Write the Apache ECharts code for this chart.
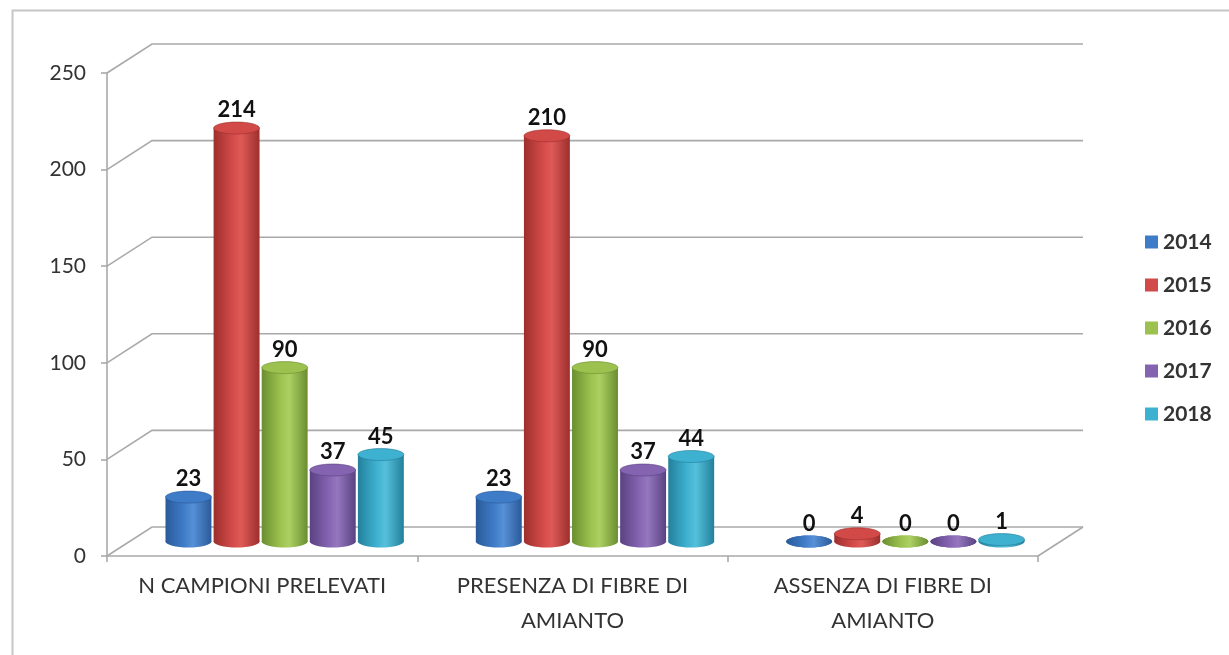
<!DOCTYPE html>
<html>
<head>
<meta charset="utf-8">
<script src="https://cdn.jsdelivr.net/npm/echarts@6/dist/echarts.min.js"></script>
<style>html,body{margin:0;padding:0;background:#fff}#c{width:1229px;height:655px}</style>
</head>
<body>
<div id="c"></div>
<script>
const categories = ["N CAMPIONI PRELEVATI", "PRESENZA DI FIBRE DI\nAMIANTO", "ASSENZA DI FIBRE DI\nAMIANTO"];
const years = ["2014", "2015", "2016", "2017", "2018"];
const v2014 = [23, 23, 0];
const v2015 = [214, 210, 4];
const v2016 = [90, 90, 0];
const v2017 = [37, 37, 0];
const v2018 = [45, 44, 1];
const yTicks = [0, 50, 100, 150, 200, 250];

const seriesValues = [v2014, v2015, v2016, v2017, v2018];
const baseColors = ['#3f7cc8', '#d24a48', '#9cc14f', '#8463b0', '#3eb0d0'];
const darkColors = ['#2a5a9a', '#9c2f2d', '#6a8e30', '#5a4282', '#23809c'];
const lightColors = ['#5690d6', '#df5a57', '#acd062', '#9477be', '#55c0db'];

const DX = 45, DY = -29;
const FONT = 'Lato';

function cylRender(k) {
  return function (params, api) {
    const ci = api.value(0), v = api.value(1);
    const b = api.coord([ci, 0]);
    const t = api.coord([ci, v]);
    const cw = api.size([1, 0])[0];
    const cx = b[0] + DX / 2 + (k - 2) * cw * 0.155;
    const w = cw * 0.148, rx = w / 2, ry = 6;
    const by = b[1] + DY / 2, ty = t[1] + DY / 2;
    const grad = {
      type: 'linear', x: 0, y: 0, x2: 1, y2: 0,
      colorStops: [
        {offset: 0, color: darkColors[k]},
        {offset: 0.4, color: baseColors[k]},
        {offset: 0.6, color: lightColors[k]},
        {offset: 1, color: darkColors[k]}
      ]
    };
    const children = [];
    children.push({type: 'ellipse', shape: {cx: cx, cy: by, rx: rx, ry: ry}, style: {fill: grad}});
    if (by - ty > 0.5) {
      children.push({type: 'rect', shape: {x: cx - rx, y: ty, width: w, height: by - ty}, style: {fill: grad}});
    }
    children.push({type: 'ellipse', shape: {cx: cx, cy: ty, rx: rx, ry: ry}, style: {fill: v > 0 ? baseColors[k] : grad, stroke: v > 0 ? darkColors[k] : null, lineWidth: 0.6}});
    children.push({
      type: 'text',
      style: {
        text: String(v), x: cx, y: ty - ry - 1, align: 'center', verticalAlign: 'bottom',
        fontSize: 22, fontWeight: 'bold', fontFamily: FONT, fill: '#111'
      }
    });
    return {type: 'group', children: children};
  };
}

function frameRender(params, api) {
  const cs = params.coordSys;
  const v = api.value(1);
  const p = api.coord([0, v]);
  const x0 = cs.x, x1 = cs.x + cs.width, y = p[1];
  const st = {stroke: '#a9a9a9', lineWidth: 1.6, fill: null};
  const children = [
    {type: 'polyline', shape: {points: [[x0, y], [x0 + DX, y + DY], [x1 + DX, y + DY]]}, style: st}
  ];
  if (v === 0) {
    children.push({type: 'line', shape: {x1: x1, y1: y, x2: x1 + DX, y2: y + DY}, style: st});
  }
  return {type: 'group', children: children};
}

const series = [{
  type: 'custom', name: 'frame', silent: true, z: 1,
  data: yTicks.map(v => [0, v]),
  renderItem: frameRender
}];
years.forEach((y, k) => {
  series.push({
    type: 'custom', name: y, z: 3,
    itemStyle: {color: baseColors[k]},
    data: seriesValues[k].map((v, i) => [i, v]),
    renderItem: cylRender(k)
  });
});

const chart = echarts.init(document.getElementById('c'), null, {renderer: 'canvas'});
chart.setOption({
  animation: false,
  backgroundColor: '#fff',
  color: baseColors,
  graphic: [{
    type: 'rect', left: 10, top: 8, silent: true,
    shape: {width: 1240, height: 660},
    style: {fill: 'none', stroke: '#c6c6c6', lineWidth: 2}
  }],
  grid: {left: 107, right: 191, top: 73, bottom: 99},
  legend: {
    data: years, orient: 'vertical', left: 1140, top: 226,
    icon: 'rect', itemWidth: 13, itemHeight: 13, itemGap: 21,
    textStyle: {fontSize: 21, lineHeight: 22, fontFamily: FONT, color: '#333', fontWeight: 'bold'}
  },
  xAxis: {
    type: 'category', data: categories,
    axisLine: {lineStyle: {color: '#a9a9a9', width: 1.6}},
    axisTick: {show: true, length: 6, lineStyle: {color: '#a9a9a9', width: 1.6}},
    axisLabel: {fontSize: 22, fontFamily: FONT, color: '#333', lineHeight: 35, margin: 12, interval: 0}
  },
  yAxis: {
    type: 'value', min: 0, max: 250, interval: 50,
    axisLine: {show: true, lineStyle: {color: '#a9a9a9', width: 1.6}},
    axisTick: {show: true, length: 6, lineStyle: {color: '#a9a9a9', width: 1.6}},
    splitLine: {show: false},
    axisLabel: {fontSize: 21, fontFamily: FONT, color: '#333', margin: 21}
  },
  series: series
});
</script>
</body>
</html>
